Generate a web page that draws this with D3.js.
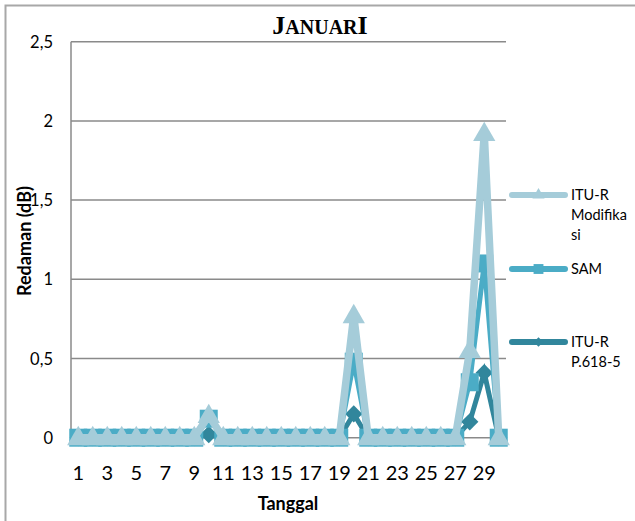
<!DOCTYPE html>
<html><head><meta charset="utf-8">
<script src="https://cdn.jsdelivr.net/npm/d3@7"></script>
<style>body{margin:0;background:#fff}svg{display:block}</style>
</head><body>
<script>
const days = d3.range(1, 31);
const xTickLabels = [1,3,5,7,9,11,13,15,17,19,21,23,25,27,29];
const yTicks = [0, 0.5, 1, 1.5, 2, 2.5];
const seriesNames = ["ITU-R P.618-5", "SAM", "ITU-R Modifikasi"];
const p618 = [0,0,0,0,0,0,0,0,0,0.02,0,0,0,0,0,0,0,0,0,0.15,0,0,0,0,0,0,0,0.10,0.41,0];
const sam  = [0,0,0,0,0,0,0,0,0,0.12,0,0,0,0,0,0,0,0,0,0.48,0,0,0,0,0,0,0,0.35,1.10,0];
const modif= [0,0,0,0,0,0,0,0,0,0.14,0,0,0,0,0,0,0,0,0,0.77,0,0,0,0,0,0,0,0.55,1.92,0];

const W = 635, H = 521;
const svg = d3.select("body").append("svg").attr("width", W).attr("height", H);
const font = "Lato, 'Open Sans', sans-serif";

svg.append("rect").attr("x",5.5).attr("y",5.5).attr("width",W+10).attr("height",H+10)
  .attr("fill","none").attr("stroke","#a8a8a8").attr("stroke-width",2);

const x = d3.scaleBand().domain(days).range([71, 506]);
const y = d3.scaleLinear().domain([0, 2.5]).range([437.7, 41.7]);
const cx = d => x(d) + x.bandwidth()/2;

// gridlines
svg.append("g").selectAll("line").data(yTicks).join("line")
  .attr("x1",71).attr("x2",506).attr("y1",d=>y(d)).attr("y2",d=>y(d))
  .attr("stroke","#8a8a8a").attr("stroke-width",1.5);
svg.append("line").attr("x1",71).attr("x2",71).attr("y1",y(2.5)).attr("y2",y(0))
  .attr("stroke","#8a8a8a").attr("stroke-width",1.5);

// y tick labels
svg.append("g").selectAll("text").data(yTicks).join("text")
  .attr("x",53).attr("y",d=>y(d)+6).attr("text-anchor","end")
  .attr("font-family",font).attr("font-size",16.5).attr("fill","#000")
  .text(d => String(d).replace(".", ","));

// x tick labels
svg.append("g").selectAll("text").data(xTickLabels).join("text")
  .attr("x",d=>cx(d)).attr("y",480).attr("text-anchor","middle")
  .attr("font-family",font).attr("font-size",20).attr("fill","#000")
  .text(d=>d);

// axis titles
svg.append("text").attr("x",288).attr("y",510).attr("text-anchor","middle")
  .attr("font-family",font).attr("font-weight","bold").attr("font-size",18).text("Tanggal");
svg.append("text").attr("transform","translate(31,241) rotate(-90)").attr("text-anchor","middle")
  .attr("font-family",font).attr("font-weight","bold").attr("font-size",18).text("Redaman (dB)");

// title (small caps)
const title = svg.append("text").attr("x",320).attr("y",34).attr("text-anchor","middle")
  .attr("font-family","'Liberation Serif', serif").attr("font-weight","bold").attr("fill","#000");
title.append("tspan").attr("font-size",26).text("J");
title.append("tspan").attr("font-size",20).text("ANUAR");
title.append("tspan").attr("font-size",26).text("I");

const series = [
  {name:"ITU-R P.618-5", values:p618, color:"#31869c", sym:"diamond", lw:5},
  {name:"SAM", values:sam, color:"#4bacc6", sym:"square", lw:5},
  {name:"ITU-R Modifikasi", values:modif, color:"#a5ccd9", sym:"triangle", lw:7.5}
];
function symPath(s, scale){
  if (s==="triangle") return d3.symbol(d3.symbolTriangle, 215*scale)();
  if (s==="square") return d3.symbol(d3.symbolSquare, 324*scale)();
  return d3.symbol(d3.symbolSquare, 150*scale)();
}
const line = d3.line().x((v,i)=>cx(days[i])).y(v=>y(v));
series.forEach(s=>{
  const g = svg.append("g");
  g.append("path").attr("d", line(s.values)).attr("fill","none")
    .attr("stroke", s.color).attr("stroke-width", s.lw).attr("stroke-linejoin","miter");
  g.selectAll("path.m").data(s.values).join("path").attr("class","m")
    .attr("d", symPath(s.sym,1))
    .attr("transform",(v,i)=>`translate(${cx(days[i])},${y(v)+(s.sym==="triangle"?1:0)})${s.sym==="diamond"?" rotate(45)":""}`)
    .attr("fill", s.color);
});

// legend
const legend = [
  {name:["ITU-R","Modifika","si"], color:"#a5ccd9", sym:"triangle", y:195},
  {name:["SAM"], color:"#4bacc6", sym:"square", y:269},
  {name:["ITU-R","P.618-5"], color:"#31869c", sym:"diamond", y:342}
];
legend.forEach(l=>{
  svg.append("line").attr("x1",512).attr("x2",565).attr("y1",l.y).attr("y2",l.y)
    .attr("stroke",l.color).attr("stroke-width",6).attr("stroke-linecap","round");
  svg.append("path").attr("d",symPath(l.sym,0.3))
    .attr("transform",`translate(538.5,${l.y})${l.sym==="diamond"?" rotate(45)":""}`).attr("fill",l.color);
  const t = svg.append("text").attr("x",571).attr("y",l.y+5)
    .attr("font-family",font).attr("font-size",14.5).attr("fill","#000");
  l.name.forEach((n,i)=>t.append("tspan").attr("x",571).attr("dy",i===0?0:20).text(n));
});
</script>
</body></html>
